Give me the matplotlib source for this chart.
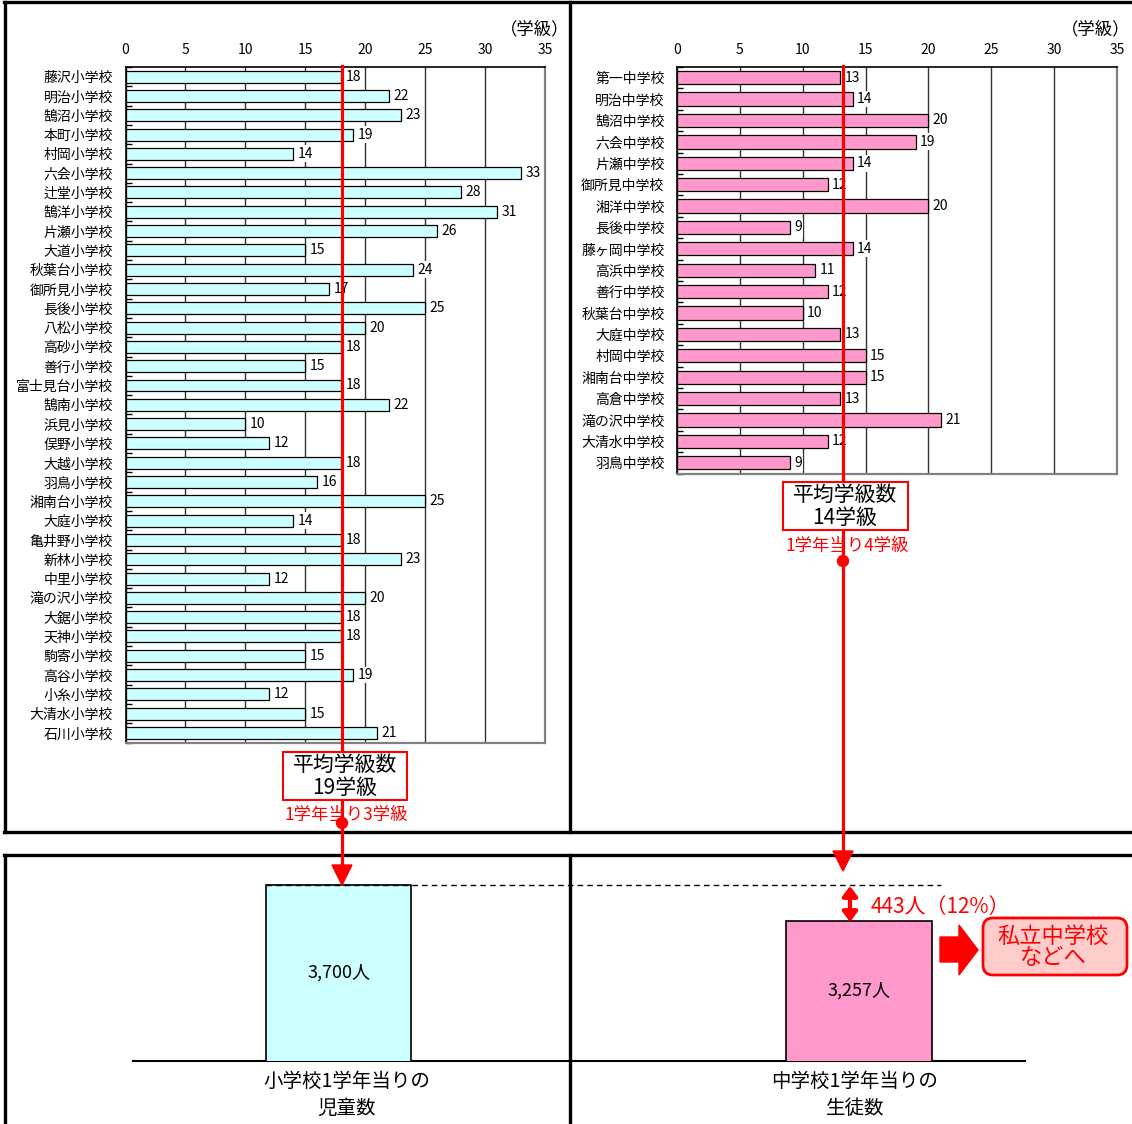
import numpy as np
import matplotlib
matplotlib.use("Agg")
import matplotlib.pyplot as plt
from matplotlib.patches import Rectangle, Polygon, Circle, FancyBboxPatch

plt.rcParams['font.family'] = ['Noto Sans CJK JP', 'DejaVu Sans']

# ---------------- data ----------------
elem_names = ["藤沢小学校", "明治小学校", "鵠沼小学校", "本町小学校", "村岡小学校", "六会小学校",
              "辻堂小学校", "鵠洋小学校", "片瀬小学校", "大道小学校", "秋葉台小学校", "御所見小学校",
              "長後小学校", "八松小学校", "高砂小学校", "善行小学校", "富士見台小学校", "鵠南小学校",
              "浜見小学校", "俣野小学校", "大越小学校", "羽鳥小学校", "湘南台小学校", "大庭小学校",
              "亀井野小学校", "新林小学校", "中里小学校", "滝の沢小学校", "大鋸小学校", "天神小学校",
              "駒寄小学校", "高谷小学校", "小糸小学校", "大清水小学校", "石川小学校"]
elem_classes = [18, 22, 23, 19, 14, 33, 28, 31, 26, 15, 24, 17, 25, 20, 18, 15, 18, 22,
                10, 12, 18, 16, 25, 14, 18, 23, 12, 20, 18, 18, 15, 19, 12, 15, 21]

jr_names = ["第一中学校", "明治中学校", "鵠沼中学校", "六会中学校", "片瀬中学校", "御所見中学校",
            "湘洋中学校", "長後中学校", "藤ヶ岡中学校", "高浜中学校", "善行中学校", "秋葉台中学校",
            "大庭中学校", "村岡中学校", "湘南台中学校", "高倉中学校", "滝の沢中学校", "大清水中学校",
            "羽鳥中学校"]
jr_classes = [13, 14, 20, 19, 14, 12, 20, 9, 14, 11, 12, 10, 13, 15, 15, 13, 21, 12, 9]

x_ticks = [0, 5, 10, 15, 20, 25, 30, 35]
unit_label = "（学級）"

per_grade_cats = ["小学校1学年当りの\n児童数", "中学校1学年当りの\n生徒数"]
per_grade_vals = [3700, 3257]
per_grade_text = ["3,700人", "3,257人"]

# ---------------- layout ----------------
W, H = 1132, 1124
fig = plt.figure(figsize=(W / 100, H / 100), dpi=100)


def rect(l, t, r, b):
    return [l / W, 1 - b / H, (r - l) / W, (b - t) / H]


def class_chart(ax, names, vals, color):
    n = len(names)
    y = np.arange(n)
    ax.barh(y, vals, height=0.62, color=color, edgecolor='black', linewidth=0.9, zorder=3)
    ax.set_xlim(0, 35)
    ax.set_ylim(n - 0.5, -0.5)
    ax.xaxis.tick_top()
    ax.set_xticks(x_ticks)
    ax.tick_params(axis='x', length=0, pad=7.5, labelsize=10)
    ax.set_yticks(y)
    ax.set_yticklabels(names, fontsize=10)
    ax.tick_params(axis='y', which='major', length=0, pad=9)
    ax.set_yticks(np.arange(n + 1) - 0.5, minor=True)
    ax.tick_params(axis='y', which='minor', direction='in', length=4, width=1, color='black')
    ax.grid(axis='x', color='#333333', linewidth=1, zorder=1)
    ax.set_axisbelow(True)
    ax.spines['top'].set_color('black')
    ax.spines['left'].set_color('black')
    ax.spines['right'].set_color('#808080')
    ax.spines['bottom'].set_color('#808080')
    for s in ['right', 'bottom']:
        ax.spines[s].set_linewidth(1.6)
    for s in ['top', 'left']:
        ax.spines[s].set_linewidth(1.2)
    for i, v in enumerate(vals):
        ax.annotate(str(v), (v, i), xytext=(3, 0), textcoords='offset points',
                    va='center', ha='left', fontsize=10, zorder=5,
                    bbox=dict(fc='white', ec='none', pad=1.0))


ax1 = fig.add_axes(rect(125.5, 67, 545, 742.6))
class_chart(ax1, elem_names, elem_classes, '#CCFFFF')
ax2 = fig.add_axes(rect(677, 67, 1117, 473.5))
class_chart(ax2, jr_names, jr_classes, '#FF99CC')

fig.text(569 / W, 1 - 29 / H, unit_label, ha='right', va='center', fontsize=12.5)
fig.text(1130 / W, 1 - 29 / H, unit_label, ha='right', va='center', fontsize=12.5)

# bottom comparison bars
YMIN = 1534
ax3 = fig.add_axes(rect(133, 855, 1025, 1061))
ax3.set_facecolor('none')
xpos = np.arange(len(per_grade_vals))
ax3.bar(xpos, per_grade_vals, width=0.279, color=['#CCFFFF', '#FF99CC'],
        edgecolor='black', linewidth=1.2, zorder=3)
ax3.set_xlim(-0.395, 1.319)
ax3.set_ylim(YMIN, 4069)
for s in ['top', 'left', 'right']:
    ax3.spines[s].set_visible(False)
ax3.spines['bottom'].set_linewidth(1.5)
ax3.set_xticks([])
ax3.set_yticks([])
label_dx = [6, -3]  # slight horizontal nudge (points) of category captions
for i, (v, t, cat) in enumerate(zip(per_grade_vals, per_grade_text, per_grade_cats)):
    ax3.text(i, (YMIN + v) / 2, t, ha='center', va='center', fontsize=13, zorder=5)
    l1, l2 = cat.split('\n')
    ax3.annotate(l1, xy=(i, YMIN), xytext=(label_dx[i], -15), textcoords='offset points',
                 ha='center', va='center', fontsize=14, annotation_clip=False)
    ax3.annotate(l2, xy=(i, YMIN), xytext=(label_dx[i], -34), textcoords='offset points',
                 ha='center', va='center', fontsize=14, annotation_clip=False)

# ---------------- overlay annotations ----------------
ov = fig.add_axes([0, 0, 1, 1], zorder=10)
ov.set_xlim(0, W)
ov.set_ylim(H, 0)
ov.axis('off')

lwb = 2.4
# frames
ov.plot([4, 1132], [2, 2], color='black', lw=lwb)
ov.plot([4, 1132], [832, 832], color='black', lw=lwb)
ov.plot([5, 5], [2, 832], color='black', lw=lwb)
ov.plot([570, 570], [2, 832], color='black', lw=lwb)
ov.plot([4, 1132], [855, 855], color='black', lw=lwb)
ov.plot([5, 5], [855, 1124], color='black', lw=lwb)
ov.plot([570, 570], [855, 1124], color='black', lw=lwb)

red = '#FF0000'
# average lines
ov.plot([342, 342], [66, 868], color=red, lw=2.3, zorder=2)
ov.add_patch(Polygon([[332, 865], [352, 865], [342, 885]], closed=True, fc=red, ec=red, zorder=2))
ov.plot([843, 843], [66, 853], color=red, lw=2.3, zorder=2)
ov.add_patch(Polygon([[833, 851], [853, 851], [843, 871]], closed=True, fc=red, ec=red, zorder=2))

# average boxes
ov.add_patch(Rectangle((283, 752), 124, 48, fc='white', ec=red, lw=1.5, zorder=3))
ov.text(345, 765, "平均学級数", ha='center', va='center', fontsize=15, zorder=4)
ov.text(345, 788, "19学級", ha='center', va='center', fontsize=15, zorder=4)
ov.text(346, 815, "1学年当り3学級", ha='center', va='center', fontsize=12.5, color=red, zorder=4)
ov.add_patch(Circle((342, 823), 5.5, fc=red, ec=red, zorder=5))

ov.add_patch(Rectangle((782.5, 482), 125, 48, fc='white', ec=red, lw=1.5, zorder=3))
ov.text(845, 495, "平均学級数", ha='center', va='center', fontsize=15, zorder=4)
ov.text(845, 518, "14学級", ha='center', va='center', fontsize=15, zorder=4)
ov.text(847, 546, "1学年当り4学級", ha='center', va='center', fontsize=12.5, color=red, zorder=4)
ov.add_patch(Circle((843, 561), 5.5, fc=red, ec=red, zorder=5))

# dashed reference line & difference arrow
ov.plot([266, 941], [885, 885], color='black', lw=1, ls=(0, (4, 3)), zorder=2)
ov.annotate('', xy=(850, 886), xytext=(850, 922),
            arrowprops=dict(arrowstyle='<|-|>,head_length=0.6,head_width=0.45',
                            color=red, lw=3, shrinkA=0, shrinkB=0))
ov.text(871, 907, "443人（12%）", ha='left', va='center', fontsize=15, color=red)

# block arrow
ov.add_patch(Polygon([[940, 937], [959, 937], [959, 925], [978, 950],
                      [959, 975], [959, 962], [940, 962]], closed=True, fc=red, ec=red))
ov.add_patch(FancyBboxPatch((983, 918), 144, 57, boxstyle='round,pad=0,rounding_size=10',
                            fc='#FFCCCC', ec=red, lw=2))
ov.text(1053, 936, "私立中学校", ha='center', va='center', fontsize=16, color=red)
ov.text(1053, 958, "などへ", ha='center', va='center', fontsize=16, color=red)

fig.savefig('out.png', dpi=100)
